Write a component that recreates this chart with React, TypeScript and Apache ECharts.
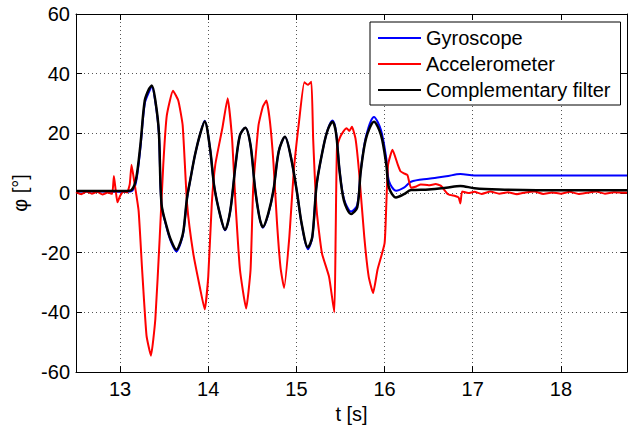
import React, { useEffect, useRef } from "react";
import * as echarts from "echarts";

// Time stamps shared by gyroscope and complementary-filter traces [s]
const filterTime = [
  12.5, 12.8, 13.08, 13.13, 13.18, 13.23, 13.28, 13.33, 13.36, 13.4, 13.44, 13.47,
  13.53, 13.58, 13.64, 13.69, 13.72, 13.76, 13.8, 13.85, 13.91, 13.96, 14.02, 14.07,
  14.14, 14.19, 14.25, 14.31, 14.36, 14.42, 14.48, 14.53, 14.58, 14.62, 14.68, 14.74,
  14.8, 14.87, 14.94, 15.01, 15.06, 15.13, 15.18, 15.23, 15.31, 15.36, 15.41, 15.45,
  15.49, 15.54, 15.62, 15.69, 15.73, 15.79, 15.88, 15.96, 16.02, 16.05, 16.13, 16.22,
  16.3, 16.5, 16.7, 16.86, 17.02, 17.3, 18.0, 18.75,
];
// Complementary filter angle [deg]
const compPhi = [
  0.7, 0.7, 0.7, 1.0, 4.5, 16, 31, 35, 36, 31, 20.5, -3.7,
  -11.4, -16, -19, -16, -12.4, -1.5, 5, 12.8, 20, 24, 15, 1.8,
  -8, -12.3, -5.9, 9.5, 19.4, 21.9, 16, 1.8, -8, -11.4, -7, 1,
  14, 18.9, 11.7, -0.4, -10.3, -18.2, -14.7, 2.9, 16, 21.5, 23.9, 20,
  7.3, -2.6, -7, -4.8, 7.3, 18.3, 23.9, 19.4, 9.5, 1.8, -1.5, -0.4,
  1.0, 1.2, 1.8, 2.4, 1.6, 1.2, 0.9, 0.9,
];
// Gyroscope angle [deg]
const gyroPhi = [
  0.5, 0.5, 0.4, 0.6, 3.5, 15, 30, 34, 35.5, 30.5, 20, -4,
  -11.8, -16.5, -19.6, -16.5, -12.8, -1.8, 5, 12.8, 20, 24.2, 15, 1.8,
  -8, -12.5, -6, 9.5, 19.4, 21.9, 16, 1.8, -8, -11.6, -7.2, 1,
  14, 18.9, 11.7, -0.4, -10.5, -18.8, -15, 2.9, 16, 21.7, 24.3, 20.4,
  7.6, -2, -6.2, -4, 7.5, 19, 25.5, 21, 11.5, 4, 0.8, 1.8,
  3.8, 4.8, 5.6, 6.4, 5.9, 5.9, 5.9, 5.9,
];

// Accelerometer trace
const accTime = [
  12.5, 12.56, 12.62, 12.68, 12.74, 12.8, 12.86, 12.91, 12.93, 12.95, 12.97, 13.0,
  13.04, 13.08, 13.11, 13.13, 13.16, 13.21, 13.25, 13.3, 13.35, 13.4, 13.45, 13.49,
  13.53, 13.6, 13.66, 13.71, 13.76, 13.83, 13.91, 13.96, 14.0, 14.04, 14.08, 14.16,
  14.22, 14.27, 14.31, 14.36, 14.43, 14.48, 14.51, 14.57, 14.62, 14.66, 14.7, 14.74,
  14.78, 14.82, 14.86, 14.92, 14.97, 15.03, 15.09, 15.13, 15.17, 15.19, 15.23, 15.29,
  15.37, 15.43, 15.445, 15.46, 15.49, 15.53, 15.57, 15.6, 15.63, 15.67, 15.71, 15.77,
  15.82, 15.87, 15.92, 16.0, 16.02, 16.04, 16.09, 16.15, 16.18, 16.22, 16.26, 16.3,
  16.36, 16.41, 16.5, 16.58, 16.64, 16.72, 16.8, 16.84, 16.86, 16.88, 16.95, 17.02,
  17.1, 17.2, 17.3, 17.4, 17.5, 17.6, 17.7, 17.8, 17.9, 18.0, 18.1, 18.2,
  18.3, 18.4, 18.5, 18.6, 18.75,
];
const accPhi = [
  0.3, -0.4, 0.5, -0.2, 0.4, -0.5, 0.2, -0.3, 5.7, 1, -3.1, -1.0,
  0.5, 0.2, 3, 9.5, 4, -5.9, -25.7, -47.8, -54.5, -42.2, -14.7, 9.5,
  26, 34.3, 31, 22.7, -3.7, -20.2, -32.3, -39, -28, -3.7, 9.5, 21.7,
  31.8, 18.3, -3.7, -25.7, -38.7, -25.7, 1.8, 22.7, 29, 31, 23.9, 10,
  -10, -25, -31.8, -14.7, 7.3, 23.9, 37.1, 36.3, 37.3, 18.3, -5.9, -20.2,
  -28, -40, -14.7, 15, 18.3, 20.5, 21.7, 20.8, 22.2, 18.3, 7.3, -14.7,
  -28, -33.5, -25.7, -16.9, -3.7, 9.5, 14.5, 9.5, 7.3, 6.6, 6.0, 1.8,
  2.2, 2.9, 2.6, 3.0, 2.4, -0.4, -1.0, -1.5, -3.5, 0.5, 0.0, 0.4,
  -0.3, 0.5, -0.2, 0.3, -0.4, 0.2, 0.5, -0.3, 0.2, -0.2, 0.4, -0.3,
  0.1, 0.5, -0.2, 0.3, 0.1,
];

const seriesNames = ["Gyroscope", "Accelerometer", "Complementary filter"];
const FONT = "'Liberation Sans', Arial, sans-serif";

function pairs(t: number[], v: number[]) {
  return t.map((x, i) => [x, v[i]]);
}

export default function App() {
  const ref = useRef<HTMLDivElement>(null);
  useEffect(() => {
    if (!ref.current) return;
    const chart = echarts.init(ref.current, undefined, { renderer: "svg" });
    const axisLine = { show: true, onZero: false, lineStyle: { color: "#000", width: 1 } };
    const axisTick = { show: true, inside: true, length: 6, lineStyle: { color: "#000", width: 1 } };
    const splitLine = { show: true, lineStyle: { color: "#555", width: 1, type: [1, 3] } };
    chart.setOption({
      animation: false,
      backgroundColor: "#fff",
      textStyle: { fontFamily: FONT },
      grid: { left: 76, right: 3, top: 14, bottom: 52, containLabel: false },
      xAxis: [
        {
          type: "value",
          min: 12.5,
          max: 18.75,
          splitNumber: 5,
          position: "bottom",
          name: "t [s]",
          nameLocation: "middle",
          nameGap: 31,
          nameTextStyle: { fontSize: 20, color: "#000", fontFamily: FONT },
          axisLine,
          axisTick,
          axisLabel: { showMinLabel: false, showMaxLabel: false, fontSize: 20, color: "#000", margin: 7, fontFamily: FONT },
          splitLine,
        },
        {
          type: "value",
          min: 12.5,
          max: 18.75,
          splitNumber: 5,
          position: "top",
          axisLine,
          axisTick,
          axisLabel: { show: false },
          splitLine: { show: false },
        },
      ],
      yAxis: [
        {
          type: "value",
          min: -60,
          max: 60,
          interval: 20,
          position: "left",
          name: "φ [°]",
          nameLocation: "middle",
          nameGap: 42,
          nameTextStyle: { fontSize: 20, color: "#000", fontFamily: FONT },
          axisLine,
          axisTick,
          axisLabel: { fontSize: 20, color: "#000", margin: 6, fontFamily: FONT },
          splitLine,
        },
        {
          type: "value",
          min: -60,
          max: 60,
          interval: 20,
          position: "right",
          axisLine,
          axisTick,
          axisLabel: { show: false },
          splitLine: { show: false },
        },
      ],
      legend: {
        data: seriesNames.map((n) => ({ name: n, icon: "rect" })),
        orient: "vertical",
        left: 370,
        top: 22,
        padding: [6, 10, 5, 8],
        itemGap: 6,
        itemWidth: 43,
        itemHeight: 2,
        selectedMode: false,
        backgroundColor: "#fff",
        borderColor: "#000",
        borderWidth: 1,
        borderRadius: 0,
        textStyle: { fontSize: 20, color: "#000", lineHeight: 20, fontFamily: FONT },
      },
      series: [
        {
          name: seriesNames[0],
          type: "line",
          data: pairs(filterTime, gyroPhi),
          symbol: "none",
          smooth: 0.3,
          lineStyle: { color: "#0000ff", width: 2 },
          itemStyle: { color: "#0000ff" },
          z: 2,
        },
        {
          name: seriesNames[1],
          type: "line",
          data: pairs(accTime, accPhi),
          symbol: "none",
          smooth: 0.15,
          lineStyle: { color: "#ff0000", width: 2 },
          itemStyle: { color: "#ff0000" },
          z: 3,
        },
        {
          name: seriesNames[2],
          type: "line",
          data: pairs(filterTime, compPhi),
          symbol: "none",
          smooth: 0.3,
          lineStyle: { color: "#000000", width: 2.5 },
          itemStyle: { color: "#000000" },
          z: 4,
        },
      ],
    });
    return () => chart.dispose();
  }, []);
  return (
    <div
      ref={ref}
      style={{ position: "fixed", left: 0, top: 0, width: 630, height: 429, background: "#fff" }}
    />
  );
}
